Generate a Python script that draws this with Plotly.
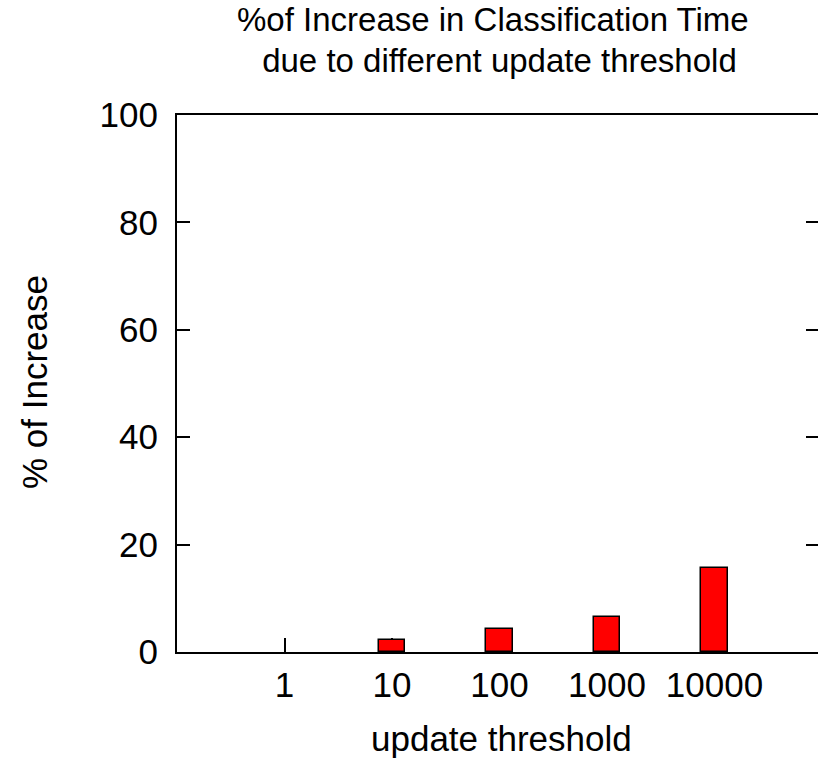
import plotly.graph_objects as go

categories = ["1", "10", "100", "1000", "10000"]
increase_pct = [0.0, 2.2, 4.2, 6.5, 15.6]
y_ticks = [0, 20, 40, 60, 80, 100]
title_line1 = "%of Increase in Classification Time"
title_line2 = " due to different update threshold"
x_title = "update threshold"
y_title = "% of Increase"

W, H = 818, 761
L, R, T, B = 177, 0, 115, 109
pw, ph = W - L - R, H - T - B

positions = list(range(1, len(categories) + 1))
unit_px = 107.5
x_max = pw / unit_px

FONT = "Liberation Sans, Arial, Helvetica, sans-serif"

def px_x(p):
    return (p - L) / pw

def px_y(p):
    return (H - B - p) / ph

outline_w = [0 if v == 0 else 1.5 for v in increase_pct]

fig = go.Figure()
fig.add_trace(go.Bar(
    x=positions, y=increase_pct, width=0.25,
    marker=dict(color="#ff0000", line=dict(color="black", width=outline_w)),
    showlegend=False, hoverinfo="skip",
))
fig.add_trace(go.Scatter(x=[], y=[], yaxis="y2", showlegend=False))

fig.update_layout(
    width=W, height=H,
    margin=dict(l=L, r=R, t=T, b=B, pad=0),
    paper_bgcolor="white", plot_bgcolor="white",
    font=dict(family=FONT, size=35, color="black"),
    bargap=0,
    xaxis=dict(
        range=[0, x_max], tickvals=positions, ticktext=categories,
        ticks="inside", ticklen=14, tickwidth=2, tickcolor="black",
        showline=True, linewidth=2, linecolor="black", mirror=True,
        showgrid=False, zeroline=False, layer="below traces",
        tickfont=dict(size=35), ticklabelstandoff=1,
    ),
    yaxis=dict(
        range=[0, 100], tickvals=y_ticks,
        ticks="inside", ticklen=13, tickwidth=2, tickcolor="black",
        showline=True, linewidth=2, linecolor="black", mirror=False,
        showgrid=False, zeroline=False,
        tickfont=dict(size=35), ticklabelstandoff=10,
    ),
    yaxis2=dict(
        overlaying="y", side="right", anchor="x",
        range=[0, 100], tickvals=y_ticks,
        ticks="inside", ticklen=12, tickwidth=2, tickcolor="black",
        showticklabels=False, showline=False, showgrid=False, zeroline=False,
    ),
    annotations=[
        dict(text=title_line1, x=px_x(493), y=px_y(20), xref="paper", yref="paper",
             xanchor="center", yanchor="middle", showarrow=False, font=dict(size=33)),
        dict(text=title_line2, x=px_x(495), y=px_y(60), xref="paper", yref="paper",
             xanchor="center", yanchor="middle", showarrow=False, font=dict(size=33)),
        dict(text=x_title, x=px_x(502), y=px_y(738), xref="paper", yref="paper",
             xanchor="center", yanchor="middle", showarrow=False, font=dict(size=35)),
        dict(text=y_title, x=px_x(34), y=px_y(382), xref="paper", yref="paper",
             xanchor="center", yanchor="middle", showarrow=False, textangle=-90,
             font=dict(size=35)),
    ],
)

fig.write_html("out.html")
